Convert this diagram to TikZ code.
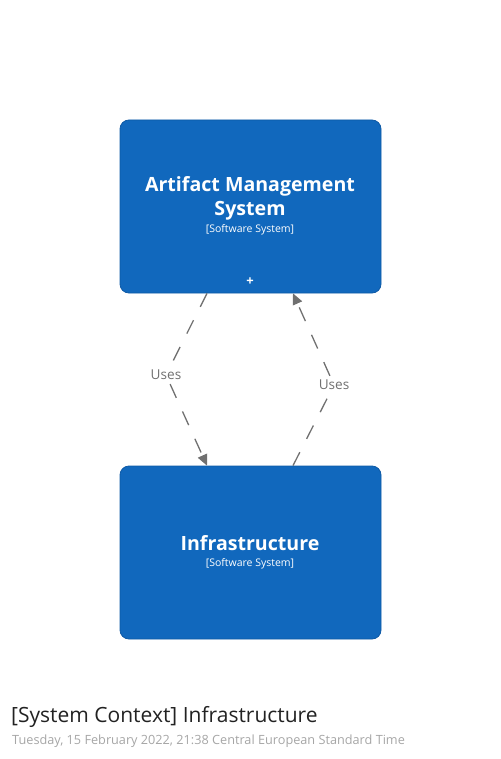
\documentclass[tikz,border=0pt]{standalone}
\usepackage{fontspec}
\setmainfont{Open Sans}
\usetikzlibrary{arrows.meta}
\definecolor{boxblue}{HTML}{1168BD}
\definecolor{boxedge}{HTML}{0E5AA6}
\definecolor{linegray}{HTML}{707070}
\definecolor{dategray}{HTML}{A6A6A6}
\definecolor{titleblack}{HTML}{222222}
\begin{document}
\begin{tikzpicture}[x=1pt,y=-1pt,
  sysbox/.style={draw=boxedge, line width=0.8pt, fill=boxblue, rounded corners=9pt,
    minimum width=261pt, minimum height=173pt, inner sep=0pt},
  systitle/.style={text=white, font=\bfseries\fontsize{19.6}{24}\selectfont, align=center, inner sep=0pt},
  systype/.style={text=white, font=\fontsize{10.5}{12}\selectfont, inner sep=0pt},
  rel/.style={draw=linegray, line width=1.3pt, dash pattern=on 15pt off 15pt},
  relarrow/.style={rel, -{Triangle[length=11pt,width=10pt]}},
  rellabel/.style={text=linegray, font=\fontsize{13.6}{15}\selectfont, inner sep=4pt}
]
\useasboundingbox (0,0) rectangle (500,759);

% boxes
\node[sysbox] (ams) at (250.5,206.5) {};
\node[sysbox] (inf) at (250.5,552.5) {};

% texts of the top box
\node[systitle] (amsname) at (250,198.5) {Artifact Management\\System};
\node[systype] (amstype) at (250,230) {[Software System]};
\node[text=white, font=\bfseries\fontsize{13}{13}\selectfont, inner sep=0pt] (amsplus) at (250,282) {+};

% texts of the bottom box
\node[systitle] (infname) at (250,543) {Infrastructure};
\node[systype] (inftype) at (250,564) {[Software System]};

% relationship labels
\node[rellabel] (u1) at (166,375) {Uses};
\node[rellabel] (u2) at (334,385) {Uses};

% relationships
\draw[rel] ([xshift=-43.5pt]ams.south) -- (u1);
\draw[relarrow] (u1) -- ([xshift=-43.5pt]inf.north);
\draw[rel] ([xshift=42.5pt]inf.north) -- (u2);
\draw[relarrow] (u2) -- ([xshift=42.5pt]ams.south);

% diagram title
\node[anchor=base west, text=titleblack, font=\fontsize{21}{24}\selectfont, inner sep=0pt] (title) at (11,722) {[System Context] Infrastructure};
\node[anchor=base west, text=dategray, font=\fontsize{12.7}{14}\selectfont, inner sep=0pt] (date) at (12,744) {Tuesday, 15 February 2022, 21:38 Central European Standard Time};
\end{tikzpicture}
\end{document}
